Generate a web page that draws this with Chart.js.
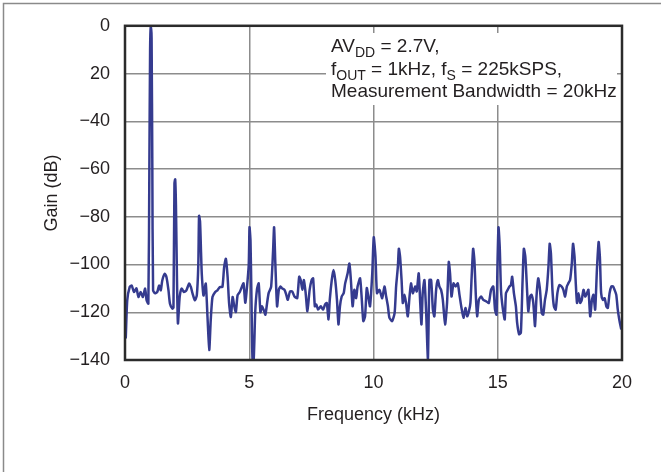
<!DOCTYPE html>
<html>
<head>
<meta charset="utf-8">
<script src="https://cdn.jsdelivr.net/npm/chart.js@4.4.1/dist/chart.umd.min.js"></script>
<style>
  html, body { margin: 0; padding: 0; background: #fff; }
  #wrap { position: relative; width: 661px; height: 472px; }
</style>
</head>
<body>
<div id="wrap"><canvas id="chart" width="661" height="472"></canvas></div>
<script>
// spectrum: frequency (kHz) and gain (dB)
const freqKHz = [
  0.03, 0.09, 0.19, 0.27, 0.36, 0.46, 0.54, 0.63, 0.72, 0.81, 0.87, 0.94,
  0.98, 1.01, 1.04, 1.07, 1.10, 1.13, 1.20, 1.30, 1.37, 1.44, 1.50, 1.60, 1.67, 1.75, 1.81, 1.91,
  1.95, 1.99, 2.02, 2.05, 2.09, 2.13, 2.20, 2.28, 2.37, 2.47, 2.58, 2.65, 2.72, 2.81, 2.89,
  2.95, 2.98, 3.02, 3.06, 3.09, 3.16, 3.25, 3.32, 3.39, 3.45, 3.52, 3.63, 3.72, 3.82, 3.92,
  3.99, 4.06, 4.13, 4.19, 4.26, 4.33, 4.39, 4.46, 4.53, 4.62, 4.70, 4.77, 4.84, 4.90,
  4.98, 5.01, 5.05, 5.09, 5.13, 5.18, 5.24, 5.31, 5.38, 5.45, 5.51, 5.58, 5.65, 5.72, 5.78, 5.88,
  5.96, 6.00, 6.05, 6.12, 6.19, 6.26, 6.32, 6.42, 6.49, 6.55, 6.64, 6.73, 6.82, 6.93,
  7.01, 7.07, 7.14, 7.20, 7.27, 7.34, 7.43, 7.51, 7.57, 7.64, 7.70, 7.77, 7.88, 7.97,
  8.05, 8.12, 8.19, 8.24, 8.32, 8.39, 8.46, 8.53, 8.59, 8.65, 8.72, 8.80, 8.86, 8.96,
  9.03, 9.09, 9.16, 9.23, 9.30, 9.36, 9.46, 9.53, 9.59, 9.66, 9.73, 9.81, 9.86, 9.95,
  10.01, 10.08, 10.14, 10.24, 10.35, 10.44, 10.51, 10.58, 10.64, 10.75, 10.85, 10.91, 10.98,
  11.02, 11.07, 11.13, 11.18, 11.25, 11.31, 11.38, 11.45, 11.51, 11.58, 11.68, 11.74, 11.82, 11.88, 11.93, 11.98,
  12.05, 12.12, 12.19, 12.25, 12.32, 12.39, 12.45, 12.52, 12.59, 12.65, 12.72, 12.79, 12.88, 12.96,
  13.03, 13.08, 13.14, 13.22, 13.30, 13.39, 13.46, 13.53, 13.62, 13.70, 13.77, 13.84, 13.90, 13.95,
  14.01, 14.06, 14.12, 14.17, 14.24, 14.33, 14.42, 14.53, 14.64, 14.73, 14.82, 14.89, 14.95, 14.99,
  15.03, 15.08, 15.13, 15.20, 15.28, 15.33, 15.40, 15.47, 15.53, 15.58, 15.65, 15.73, 15.78, 15.86, 15.93,
  16.00, 16.05, 16.11, 16.16, 16.23, 16.30, 16.36, 16.43, 16.50, 16.56, 16.63, 16.70, 16.77, 16.83, 16.90, 16.97,
  17.04, 17.09, 17.14, 17.20, 17.26, 17.33, 17.40, 17.48, 17.57, 17.64, 17.71, 17.78, 17.84, 17.91, 17.98,
  18.03, 18.09, 18.14, 18.19, 18.25, 18.32, 18.38, 18.45, 18.52, 18.59, 18.65, 18.72, 18.79, 18.85, 18.92, 18.99,
  19.06, 19.11, 19.16, 19.23, 19.30, 19.37, 19.43, 19.50, 19.57, 19.64, 19.70, 19.77, 19.83, 19.89, 19.97
];
const gainDb = [
  -131, -115, -109.4, -108.8, -111.5, -110, -113.6, -111.5, -113.6, -110.1, -115, -116.4,
  -60, -10, 0, -5, -60, -110.8, -112, -111.5, -108.8, -110.8, -106.7, -103.9, -105.3, -110.8, -116.4, -118.5,
  -118, -66, -64.3, -75, -105, -124.7, -113.6, -110.1, -111.5, -110.8, -108, -109.4, -112.2, -115, -112.9,
  -100, -79.6, -82, -95, -104, -113, -108, -122, -135.8, -123.3, -113.6, -111.5, -110.8, -109.4, -109.4,
  -101.1, -97.6, -105.3, -116.4, -122, -113.6, -117.1, -119.9, -112.9, -111.5, -109.4, -107.9, -116, -110.5,
  -100, -84.4, -90, -115, -139.6, -139.6, -120, -110.5, -107.9, -120, -117.5, -119, -121, -116, -112, -109.4,
  -94, -84.4, -99.6, -117.5, -110.6, -109.2, -110, -110.6, -112.7, -114.8, -111.3, -111.3, -113.4, -114.1,
  -105.1, -106.5, -110.6, -106.5, -112, -119.6, -110.6, -106.5, -105.8, -117.5, -116.8, -118.9, -117.5, -118.9,
  -116.8, -116.1, -123, -114.8, -106.5, -102.3, -106.5, -114.8, -125.1, -117.5, -113.4, -112, -107.9, -103.7,
  -99.6, -106.5, -117.5, -110.6, -114.1, -109.2, -105.8, -114.8, -123.7, -121.7, -109.9, -114.8, -117.5, -103.7,
  -88.6, -96.8, -112, -110.6, -114.1, -109.2, -113.4, -117.5, -122.3, -123.7, -120.3, -109.2, -101,
  -93.4, -96.8, -106.5, -116.1, -112.7, -116.1, -121.7, -113.4, -107.9, -112, -109.2, -111.3, -103.7, -116.1, -125.1, -112,
  -106.5, -120.3, -139.5, -106.5, -106.5, -118.9, -121.7, -110.6, -106.5, -109.2, -110.6, -114.8, -125.1, -116.1,
  -98.9, -103.7, -113.4, -107.9, -109.2, -107.9, -112.7, -117.5, -122.3, -118.2, -121.7, -119.6, -116.1, -105.1,
  -93.4, -98.2, -113.4, -121.7, -114.8, -113.4, -114.8, -115.4, -116.1, -110.6, -109.2, -118.9, -121, -99.6,
  -84.4, -92.7, -110.6, -118.2, -123, -112, -110.6, -109.2, -108.6, -105.1, -112, -117.5, -124.4, -129.2, -128.6,
  -106.5, -93.4, -96.8, -106.5, -119.6, -113.4, -112.7, -116.1, -125.8, -113.4, -105.8, -110.6, -120.3, -121, -114.8, -110.6,
  -101, -91.3, -95.4, -110.6, -117.5, -118.9, -112, -108.6, -109.2, -110.6, -113.4, -109.2, -107.9, -106.5, -99.6,
  -91.3, -96.8, -107.9, -116.1, -112, -116.1, -114.8, -110.6, -113.4, -112, -110.6, -121.7, -114.8, -112.7, -118.9, -102.3,
  -90.6, -96.8, -112, -114.8, -114.1, -117.5, -118.2, -112, -109.2, -109.2, -110.6, -112.7, -118.9, -123, -127.2
];

const xTicks = [0, 5, 10, 15, 20];
const yTicks = [0, -20, -40, -60, -80, -100, -120, -140];
const yTickLabels = ['0', '20', '\u221240', '\u221260', '\u221280', '\u2212100', '\u2212120', '\u2212140'];

// note text, [text, isSubscript]
const noteLines = [
  [['AV', false], ['DD', true], [' = 2.7V,', false]],
  [['f', false], ['OUT', true], [' = 1kHz, f', false], ['S', true], [' = 225kSPS,', false]],
  [['Measurement Bandwidth = 20kHz', false]]
];

const FONT = "'Liberation Sans', Arial, Helvetica, sans-serif";
const TEXT = '#231f20';

const framePlugin = {
  id: 'frame',
  beforeDraw(chart) {
    const ctx = chart.ctx;
    ctx.save();
    ctx.fillStyle = '#fff';
    ctx.fillRect(0, 0, chart.width, chart.height);
    ctx.strokeStyle = '#8a8a8a';
    ctx.lineWidth = 1.5;
    ctx.beginPath();
    ctx.moveTo(3.5, chart.height);
    ctx.lineTo(3.5, 3.5);
    ctx.lineTo(chart.width, 3.5);
    ctx.stroke();
    ctx.restore();
  },
  beforeDatasetsDraw(chart) {
    const ctx = chart.ctx;
    ctx.save();
    ctx.fillStyle = '#fff';
    ctx.fillRect(326, 33, 291, 72);
    ctx.fillStyle = TEXT;
    ctx.textBaseline = 'alphabetic';
    const baselines = [52, 74.5, 97];
    noteLines.forEach((parts, i) => {
      let x = 331;
      parts.forEach(([txt, sub]) => {
        ctx.font = (sub ? '14px ' : '19px ') + FONT;
        ctx.fillText(txt, x, baselines[i] + (sub ? 5 : 0));
        x += ctx.measureText(txt).width;
      });
    });
    ctx.restore();
  },
  afterDatasetsDraw(chart) {
    const {left, top, right, bottom} = chart.chartArea;
    const ctx = chart.ctx;
    ctx.save();
    ctx.strokeStyle = '#2b2b2b';
    ctx.lineWidth = 2.5;
    ctx.strokeRect(left, top, right - left, bottom - top);
    ctx.restore();
  }
};

const points = freqKHz.map((f, i) => ({ x: f, y: gainDb[i] }));

new Chart(document.getElementById('chart').getContext('2d'), {
  type: 'line',
  data: {
    datasets: [{
      data: points,
      borderColor: '#353b8f',
      borderWidth: 2.5,
      pointRadius: 0,
      tension: 0.2,
      fill: false
    }]
  },
  options: {
    responsive: false,
    animation: false,
    events: [],
    layout: { padding: { left: 0, right: 39, top: 24, bottom: 0 } },
    plugins: { legend: { display: false }, tooltip: { enabled: false } },
    scales: {
      x: {
        type: 'linear',
        min: 0,
        max: 20,
        afterFit: s => { s.height = 112; },
        afterBuildTicks: s => { s.ticks = xTicks.map(v => ({ value: v })); },
        grid: { color: '#8c8c8c', lineWidth: 1.5, drawTicks: false },
        border: { display: false },
        ticks: { padding: 12, color: TEXT, font: { family: FONT, size: 18 }, callback: v => String(v) },
        title: { display: true, text: 'Frequency (kHz)', color: TEXT, font: { family: FONT, size: 18 }, padding: { top: 0, bottom: 46 } }
      },
      y: {
        type: 'linear',
        min: -140,
        max: 0,
        afterFit: s => { s.width = 125; },
        afterBuildTicks: s => { s.ticks = yTicks.map(v => ({ value: v })); },
        grid: { color: '#8c8c8c', lineWidth: 1.5, drawTicks: false },
        border: { display: false },
        ticks: {
          padding: 15, color: TEXT, font: { family: FONT, size: 18 },
          callback: v => yTickLabels[yTicks.indexOf(v)]
        },
        title: { display: true, text: 'Gain (dB)', color: TEXT, font: { family: FONT, size: 18 }, padding: { top: 41, bottom: 0 } }
      }
    }
  },
  plugins: [framePlugin]
});
</script>
</body>
</html>
